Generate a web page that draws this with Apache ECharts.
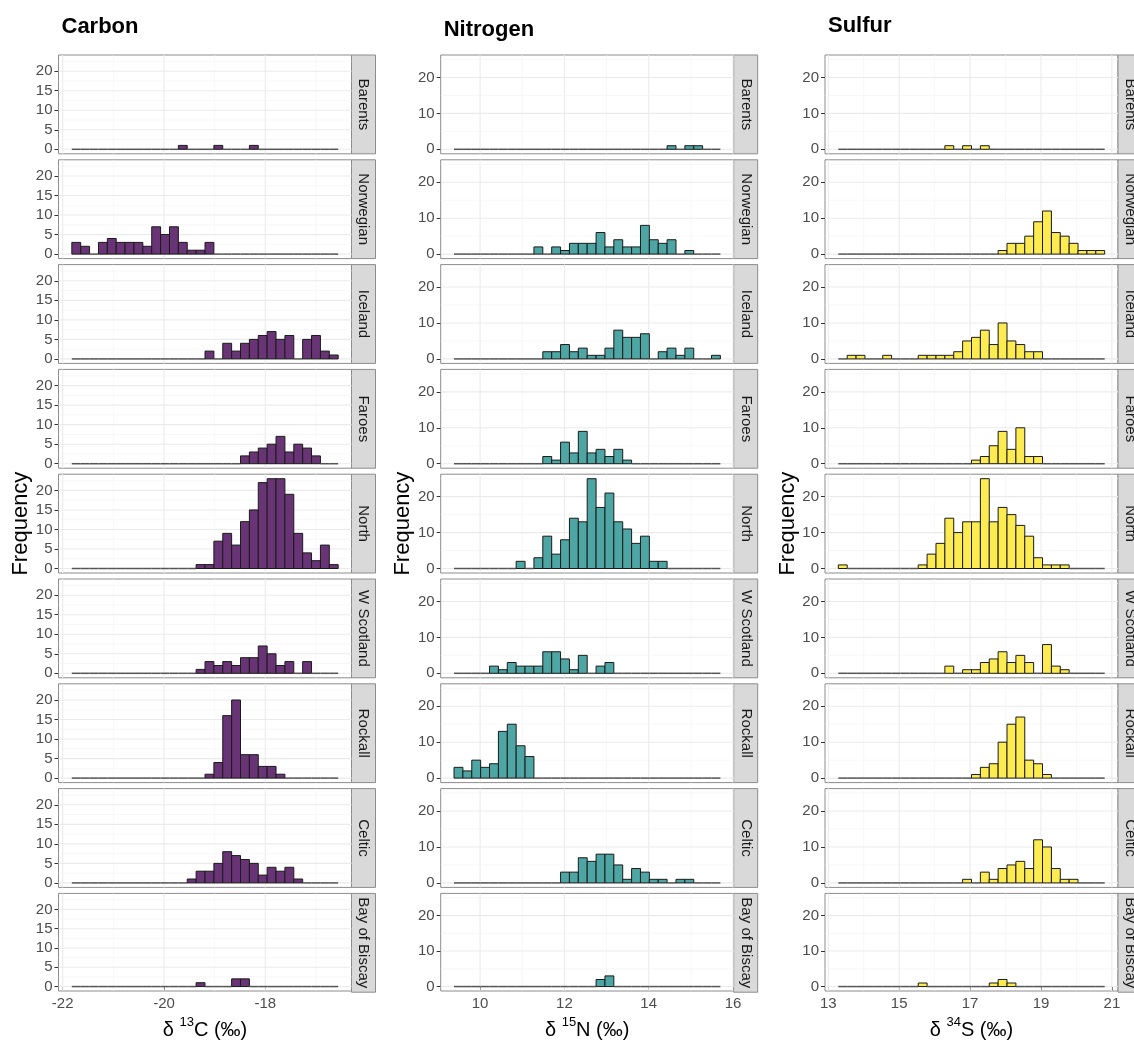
<!DOCTYPE html>
<html>
<head>
<meta charset="utf-8">
<script src="https://cdn.jsdelivr.net/npm/echarts@6/dist/echarts.min.js"></script>
<style>
html,body{margin:0;padding:0;background:#fff}
#chart{width:1134px;height:1041px}
</style>
</head>
<body>
<div id="chart"></div>
<script>
// facets (rows), same for the 3 elements
var regions = ['Barents', 'Norwegian', 'Iceland', 'Faroes', 'North', 'W Scotland', 'Rockall', 'Celtic', 'Bay of Biscay'];

// histogram bins: left edge of first bin + bin width (30 bins)
var carbonStart = -21.82, carbonWidth = 0.1753;
var nitrogenStart = 9.382, nitrogenWidth = 0.2106;
var sulfurStart = 13.282, sulfurWidth = 0.2505;

// counts per region, one row of 30 bins per region (same order as regions)
var carbonCounts = [
	[0,0,0,0,0,0,0,0,0,0,0,0,1,0,0,0,1,0,0,0,1,0,0,0,0,0,0,0,0,0],
	[3,2,0,3,4,3,3,3,2,7,5,7,3,1,1,3,0,0,0,0,0,0,0,0,0,0,0,0,0,0],
	[0,0,0,0,0,0,0,0,0,0,0,0,0,0,0,2,0,4,2,4,5,6,7,5,6,0,5,6,2,1],
	[0,0,0,0,0,0,0,0,0,0,0,0,0,0,0,0,0,0,0,2,3,4,5,7,3,5,4,2,0,0],
	[0,0,0,0,0,0,0,0,0,0,0,0,0,0,1,1,7,9,6,12,15,22,23,23,19,9,4,2,6,1],
	[0,0,0,0,0,0,0,0,0,0,0,0,0,0,1,3,2,3,2,4,4,7,5,2,3,0,3,0,0,0],
	[0,0,0,0,0,0,0,0,0,0,0,0,0,0,0,1,4,16,20,6,6,3,3,1,0,0,0,0,0,0],
	[0,0,0,0,0,0,0,0,0,0,0,0,0,1,3,3,5,8,7,6,5,2,4,3,4,1,0,0,0,0],
	[0,0,0,0,0,0,0,0,0,0,0,0,0,0,1,0,0,0,2,2,0,0,0,0,0,0,0,0,0,0]
];
var nitrogenCounts = [
	[0,0,0,0,0,0,0,0,0,0,0,0,0,0,0,0,0,0,0,0,0,0,0,0,1,0,1,1,0,0],
	[0,0,0,0,0,0,0,0,0,2,0,2,1,3,3,3,6,2,4,2,2,8,4,3,4,0,1,0,0,0],
	[0,0,0,0,0,0,0,0,0,0,2,2,4,2,3,1,1,3,8,6,6,7,0,2,3,1,3,0,0,1],
	[0,0,0,0,0,0,0,0,0,0,2,1,6,3,9,3,4,2,4,1,0,0,0,0,0,0,0,0,0,0],
	[0,0,0,0,0,0,0,2,0,3,9,4,8,14,13,25,17,21,13,11,7,9,2,2,0,0,0,0,0,0],
	[0,0,0,0,2,1,3,2,2,2,6,6,4,1,5,0,2,3,0,0,0,0,0,0,0,0,0,0,0,0],
	[3,2,5,3,4,13,15,9,6,0,0,0,0,0,0,0,0,0,0,0,0,0,0,0,0,0,0,0,0,0],
	[0,0,0,0,0,0,0,0,0,0,0,0,3,3,7,6,8,8,5,1,4,3,1,1,0,1,1,0,0,0],
	[0,0,0,0,0,0,0,0,0,0,0,0,0,0,0,0,2,3,0,0,0,0,0,0,0,0,0,0,0,0]
];
var sulfurCounts = [
	[0,0,0,0,0,0,0,0,0,0,0,0,1,0,1,0,1,0,0,0,0,0,0,0,0,0,0,0,0,0],
	[0,0,0,0,0,0,0,0,0,0,0,0,0,0,0,0,0,0,1,3,3,5,9,12,6,5,3,1,1,1],
	[0,1,1,0,0,1,0,0,0,1,1,1,1,2,5,6,8,4,10,5,4,2,2,0,0,0,0,0,0,0],
	[0,0,0,0,0,0,0,0,0,0,0,0,0,0,0,1,2,5,9,4,10,2,2,0,0,0,0,0,0,0],
	[1,0,0,0,0,0,0,0,0,1,4,7,14,10,13,13,25,13,17,15,12,9,3,1,1,1,0,0,0,0],
	[0,0,0,0,0,0,0,0,0,0,0,0,2,0,1,1,3,4,6,3,5,3,0,8,2,1,0,0,0,0],
	[0,0,0,0,0,0,0,0,0,0,0,0,0,0,0,1,3,4,10,15,17,5,4,1,0,0,0,0,0,0],
	[0,0,0,0,0,0,0,0,0,0,0,0,0,0,1,0,3,1,4,5,6,4,12,10,4,1,1,0,0,0],
	[0,0,0,0,0,0,0,0,0,1,0,0,0,0,0,0,0,1,2,1,0,0,0,0,0,0,0,0,0,0]
];

// axis breaks
var carbonXTicks = [-22, -20, -18], carbonXMinor = [-21, -19, -17];
var nitrogenXTicks = [10, 12, 14, 16], nitrogenXMinor = [11, 13, 15];
var sulfurXTicks = [13, 15, 17, 19, 21], sulfurXMinor = [14, 16, 18, 20];
var carbonYTicks = [0, 5, 10, 15, 20], carbonYMinor = [2.5, 7.5, 12.5, 17.5, 22.5];
var nitrogenYTicks = [0, 10, 20], nitrogenYMinor = [5, 15, 25];
var sulfurYTicks = [0, 10, 20], sulfurYMinor = [5, 15, 25];

var elements = [
	{title: 'Carbon', start: carbonStart, width: carbonWidth, counts: carbonCounts, xTicks: carbonXTicks, xMinor: carbonXMinor,
		yTicks: carbonYTicks, yMinor: carbonYMinor, color: '#693476', iso: '13', sym: 'C', titleY: 27},
	{title: 'Nitrogen', start: nitrogenStart, width: nitrogenWidth, counts: nitrogenCounts, xTicks: nitrogenXTicks, xMinor: nitrogenXMinor,
		yTicks: nitrogenYTicks, yMinor: nitrogenYMinor, color: '#4da6a3', iso: '15', sym: 'N', titleY: 30},
	{title: 'Sulfur', start: sulfurStart, width: sulfurWidth, counts: sulfurCounts, xTicks: sulfurXTicks, xMinor: sulfurXMinor,
		yTicks: sulfurYTicks, yMinor: sulfurYMinor, color: '#fdec51', iso: '34', sym: 'S', titleY: 26}
];

var FONT = '"Liberation Sans", Arial, Helvetica, sans-serif';
var colLeft = [58.5, 440.7, 825];
var panelW = 293, stripW = 24;
var top0 = 55, panelH = 98.8, pitch = 104.8;

function renderGrid(params, api) {
	var v = api.value(0), kind = api.value(1);
	var cs = params.coordSys;
	var major = (kind === 0 || kind === 2);
	var style = {stroke: major ? '#ebebeb' : '#f3f3f3', lineWidth: major ? 1.1 : 0.7};
	if (kind < 2) {
		var x = api.coord([v, 0])[0];
		return {type: 'line', shape: {x1: x, y1: cs.y, x2: x, y2: cs.y + cs.height}, style: style};
	}
	var y = api.coord([0, v])[1];
	return {type: 'line', shape: {x1: cs.x, y1: y, x2: cs.x + cs.width, y2: y}, style: style};
}

function barRenderer(color) {
	return function(params, api) {
		var x0 = api.value(0), x1 = api.value(1), n = api.value(2);
		var p0 = api.coord([x0, n]);
		var p1 = api.coord([x1, 0]);
		if (n === 0) {
			return {type: 'line', shape: {x1: p0[0], y1: p1[1], x2: p1[0], y2: p1[1]},
				style: {stroke: '#555', lineWidth: 1.5}};
		}
		return {
			type: 'rect',
			shape: {x: p0[0], y: p0[1], width: p1[0] - p0[0], height: p1[1] - p0[1]},
			style: {fill: color, stroke: '#1a1a1a', lineWidth: 1}
		};
	};
}

var grids = [], xAxes = [], yAxes = [], series = [], graphics = [];

elements.forEach(function(el, c) {
	var span = el.counts[0].length * el.width;
	var xMin = el.start - 0.05 * span, xMax = el.start + 1.05 * span;
	var maxN = 0;
	el.counts.forEach(function(row) { maxN = Math.max(maxN, Math.max.apply(null, row)); });
	var yMin = -0.05 * maxN, yMax = 1.05 * maxN;
	var left = colLeft[c];

	regions.forEach(function(reg, r) {
		var idx = grids.length;
		var top = top0 + r * pitch;
		var isBottom = (r === regions.length - 1);

		grids.push({left: left, top: top, width: panelW, height: panelH,
			show: true, borderColor: '#8c8c8c', borderWidth: 1, backgroundColor: '#fff'});

		xAxes.push({
			type: 'value', gridIndex: idx, min: xMin, max: xMax,
			axisLine: {show: false}, splitLine: {show: false},
			axisTick: {show: isBottom, customValues: el.xTicks, length: 4, lineStyle: {color: '#333'}},
			axisLabel: {show: isBottom, customValues: el.xTicks, margin: 5, color: '#4d4d4d', fontSize: 15, fontFamily: FONT},
			name: isBottom ? '{a|δ }{s|' + el.iso + '}{a|' + el.sym + ' (‰)}' : '',
			nameLocation: 'middle', nameGap: 25,
			nameTextStyle: {
				rich: {
					a: {fontSize: 20, color: '#000', fontFamily: FONT, verticalAlign: 'bottom', lineHeight: 24},
					s: {fontSize: 13, color: '#000', fontFamily: FONT, verticalAlign: 'top', lineHeight: 24}
				}
			}
		});

		yAxes.push({
			type: 'value', gridIndex: idx, min: yMin, max: yMax,
			axisLine: {show: false}, splitLine: {show: false},
			axisTick: {show: true, customValues: el.yTicks, length: 4, lineStyle: {color: '#333'}},
			axisLabel: {show: true, customValues: el.yTicks, margin: 6, color: '#4d4d4d', fontSize: 15, fontFamily: FONT}
		});

		var lines = [];
		el.xTicks.forEach(function(v) { lines.push([v, 0]); });
		el.xMinor.forEach(function(v) { lines.push([v, 1]); });
		el.yTicks.forEach(function(v) { lines.push([v, 2]); });
		el.yMinor.forEach(function(v) { lines.push([v, 3]); });
		series.push({type: 'custom', xAxisIndex: idx, yAxisIndex: idx, silent: true, z: 1,
			data: lines, encode: {x: 0, y: 1}, renderItem: renderGrid});

		var bins = el.counts[r].map(function(n, i) {
			return [el.start + i * el.width, el.start + (i + 1) * el.width, n];
		});
		series.push({type: 'custom', name: el.title + ' ' + reg, xAxisIndex: idx, yAxisIndex: idx, z: 2,
			data: bins, encode: {x: [0, 1], y: 2}, renderItem: barRenderer(el.color)});

		// facet strip on the right
		graphics.push({type: 'rect', silent: true,
			shape: {x: left + panelW, y: top, width: stripW, height: panelH},
			style: {fill: '#d9d9d9', stroke: '#8c8c8c', lineWidth: 1}});
		graphics.push({type: 'text', silent: true,
			x: left + panelW + stripW / 2, y: top + panelH / 2, rotation: -Math.PI / 2,
			style: {text: reg, fill: '#1a1a1a', font: '15px ' + FONT, textAlign: 'center', textVerticalAlign: 'middle'}});
	});

	// element title
	graphics.push({type: 'text', silent: true, x: left + 3, y: el.titleY,
		style: {text: el.title, fill: '#000', font: 'bold 22px ' + FONT, textAlign: 'left', textVerticalAlign: 'middle'}});
	// y axis title
	graphics.push({type: 'text', silent: true, x: left - 37.5, y: top0 + (8 * pitch + panelH) / 2, rotation: Math.PI / 2,
		style: {text: 'Frequency', fill: '#000', font: '22px ' + FONT, textAlign: 'center', textVerticalAlign: 'middle'}});
});

var myChart = echarts.init(document.getElementById('chart'));
myChart.setOption({
	animation: false,
	backgroundColor: '#fff',
	grid: grids,
	xAxis: xAxes,
	yAxis: yAxes,
	series: series,
	graphic: {elements: graphics}
});
</script>
</body>
</html>
